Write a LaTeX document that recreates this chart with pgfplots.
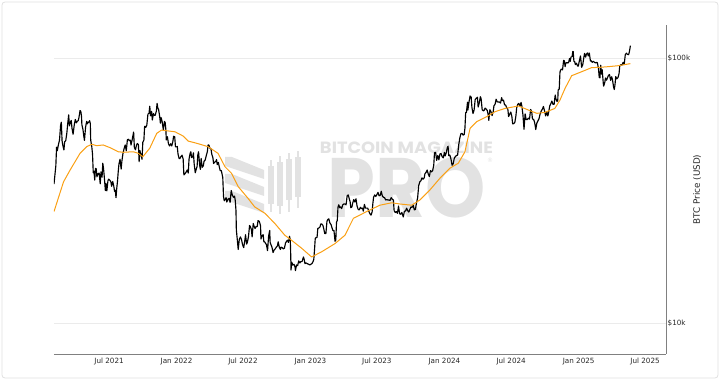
\documentclass[border=0pt]{standalone}
\usepackage{fontspec}
\setmainfont{DejaVu Sans}
\newfontfamily\wmfont{Poppins}
\usepackage{pgfplots}
\pgfplotsset{compat=1.18}
\usepgfplotslibrary{dateplot}
\definecolor{btcorange}{RGB}{250,160,20}
\definecolor{wmgray}{RGB}{226,226,226}
\begin{document}
\begin{tikzpicture}
\useasboundingbox (0,0) rectangle (720pt,380pt);
\draw[black!12, line width=0.8pt, rounded corners=3pt] (2pt,2pt) rectangle (718pt,378pt);
% watermark (image pixel coordinates, y downwards)
\begin{scope}[x=1pt,y=-1pt,shift={(0,380pt)}]
  \foreach \i in {0,1,2} {
    \fill[wmgray] (225,{157+17*\i}) -- (232,{157+17*\i}) -- (264,{170+17*\i}) -- (264,{179+17*\i}) -- (225,{166+17*\i}) -- cycle;
  }
  \foreach \cx/\ta/\ba/\tb/\bb in {271/160/212/166/204, 280/156/214/162/206, 289/153/212/159/200, 298/151/208/157/197} {
    \fill[wmgray] (\cx-0.8,\ta) rectangle (\cx+0.8,\ba);
    \fill[wmgray] (\cx-2.8,\tb) rectangle (\cx+2.8,\bb);
  }
  \node[anchor=center, inner sep=0pt, text=wmgray] at (406.5,147.5) {\resizebox{173pt}{11.6pt}{\wmfont\bfseries BITCOIN MAGAZINE}};
  \node[anchor=center, inner sep=0pt, text=wmgray] at (407,188) {\resizebox{158pt}{60pt}{\wmfont\bfseries PRO}};
  \node[anchor=center, inner sep=0pt, text=wmgray] at (490,160) {\fontsize{6}{6}\selectfont\textregistered};
\end{scope}
\begin{axis}[
  at={(54pt,26pt)}, anchor=south west,
  scale only axis, width=612pt, height=329pt,
  date coordinates in=x,
  xmin=2021-02-01, xmax=2025-08-27,
  ymode=log, ymin=7.66, ymax=133.6,
  axis x line*=bottom, axis y line*=right,
  axis line style={-, draw=black!50, line width=0.8pt},
  xtick={2021-07-01,2022-01-01,2022-07-01,2023-01-01,2023-07-01,2024-01-01,2024-07-01,2025-01-01,2025-07-01},
  xticklabels={Jul 2021,Jan 2022,Jul 2022,Jan 2023,Jul 2023,Jan 2024,Jul 2024,Jan 2025,Jul 2025},
  ytick={10,100}, yticklabels={\$10k,\$100k},
  minor ytick={}, 
  major tick length=0pt, minor tick length=0pt,
  ymajorgrids, grid style={black!8, line width=0.6pt},
  tick label style={font=\fontsize{7.2}{8}\selectfont, text=black!85},
  yticklabel style={anchor=west, inner sep=1.5pt},
  xticklabel style={yshift=-0.5pt},
  ylabel={BTC Price (USD)},
  ylabel style={at={(axis description cs:1.0507,0.5)}, anchor=center, rotate=0, font=\fontsize{8.8}{10}\selectfont, text=black!85},
]
\addplot[black, line width=1.15pt, line join=round] coordinates {
(2021-02-01,33.5)(2021-02-04,36.9)(2021-02-06,39.3)(2021-02-08,46.2)(2021-02-10,44.8)(2021-02-13,47.2)(2021-02-16,49.1)(2021-02-19,55.9)(2021-02-21,57.4)(2021-02-23,48.8)(2021-02-25,47.0)(2021-02-28,45.1)
(2021-03-02,48.4)(2021-03-05,48.9)(2021-03-08,52.2)(2021-03-10,56.0)(2021-03-13,61.2)(2021-03-15,55.6)(2021-03-18,57.6)(2021-03-20,58.3)(2021-03-22,54.5)(2021-03-25,51.7)(2021-03-28,55.8)(2021-03-31,58.8)
(2021-04-03,57.1)(2021-04-06,58.0)(2021-04-08,58.1)(2021-04-10,59.8)(2021-04-13,63.5)(2021-04-15,63.1)(2021-04-17,60.4)(2021-04-18,56.2)(2021-04-21,53.8)(2021-04-23,51.1)(2021-04-25,49.0)(2021-04-28,54.9)
(2021-05-01,57.8)(2021-05-03,56.6)(2021-05-05,57.4)(2021-05-07,57.4)(2021-05-09,58.2)(2021-05-11,56.7)(2021-05-12,49.2)(2021-05-15,46.4)(2021-05-17,43.5)(2021-05-19,37.0)(2021-05-21,37.5)(2021-05-23,34.7)(2021-05-25,38.4)(2021-05-27,38.3)(2021-05-29,35.7)
(2021-06-01,36.7)(2021-06-04,36.9)(2021-06-07,33.6)(2021-06-09,37.3)(2021-06-12,35.6)(2021-06-14,40.2)(2021-06-16,38.4)(2021-06-18,35.8)(2021-06-21,31.7)(2021-06-23,33.7)(2021-06-25,31.6)(2021-06-28,34.5)(2021-06-30,35.0)
(2021-07-03,34.7)(2021-07-06,34.2)(2021-07-08,32.9)(2021-07-11,34.3)(2021-07-14,32.9)(2021-07-16,31.5)(2021-07-18,31.8)(2021-07-20,29.8)(2021-07-22,32.3)(2021-07-24,34.3)(2021-07-26,37.3)(2021-07-28,39.9)(2021-07-31,41.6)
(2021-08-03,38.2)(2021-08-05,40.9)(2021-08-08,43.8)(2021-08-11,45.6)(2021-08-14,47.1)(2021-08-17,44.8)(2021-08-20,49.3)(2021-08-23,49.5)(2021-08-25,48.9)(2021-08-28,49.1)(2021-08-30,47.1)
(2021-09-02,49.3)(2021-09-05,51.8)(2021-09-06,52.7)(2021-09-08,46.1)(2021-09-11,45.2)(2021-09-14,47.1)(2021-09-16,47.7)(2021-09-19,47.3)(2021-09-21,40.7)(2021-09-23,44.9)(2021-09-26,43.2)(2021-09-29,41.6)
(2021-10-01,48.2)(2021-10-04,49.1)(2021-10-06,55.4)(2021-10-09,54.9)(2021-10-12,56.0)(2021-10-15,61.6)(2021-10-18,62.0)(2021-10-20,66.0)(2021-10-22,60.7)(2021-10-25,63.1)(2021-10-27,58.5)(2021-10-30,61.9)
(2021-11-01,61.0)(2021-11-04,61.0)(2021-11-07,63.3)(2021-11-09,67.6)(2021-11-11,64.9)(2021-11-13,64.2)(2021-11-16,60.4)(2021-11-18,56.9)(2021-11-20,59.7)(2021-11-23,57.5)(2021-11-26,53.6)(2021-11-29,57.8)
(2021-12-01,57.2)(2021-12-03,53.6)(2021-12-04,49.2)(2021-12-07,50.6)(2021-12-10,47.6)(2021-12-13,46.7)(2021-12-16,47.6)(2021-12-19,46.7)(2021-12-22,48.6)(2021-12-24,50.8)(2021-12-27,50.6)(2021-12-29,46.4)(2021-12-31,46.3)
(2022-01-03,46.5)(2022-01-05,43.5)(2022-01-08,41.9)(2022-01-10,41.8)(2022-01-13,42.6)(2022-01-16,43.1)(2022-01-19,41.7)(2022-01-21,36.3)(2022-01-24,36.7)(2022-01-27,37.2)(2022-01-30,37.9)
(2022-02-02,36.9)(2022-02-04,41.6)(2022-02-07,43.8)(2022-02-09,44.4)(2022-02-11,42.2)(2022-02-14,42.6)(2022-02-16,44.0)(2022-02-18,40.0)(2022-02-21,37.0)(2022-02-24,38.3)(2022-02-26,39.1)(2022-02-28,43.2)
(2022-03-02,44.4)(2022-03-05,39.4)(2022-03-07,38.1)(2022-03-09,41.9)(2022-03-12,38.8)(2022-03-15,39.3)(2022-03-17,40.9)(2022-03-20,41.3)(2022-03-23,42.9)(2022-03-26,44.5)(2022-03-28,47.1)(2022-03-30,47.1)
(2022-04-02,45.8)(2022-04-05,45.5)(2022-04-07,43.5)(2022-04-10,42.2)(2022-04-12,40.1)(2022-04-15,40.6)(2022-04-18,40.8)(2022-04-20,41.5)(2022-04-22,39.7)(2022-04-25,40.5)(2022-04-27,39.2)(2022-04-30,37.7)
(2022-05-03,37.7)(2022-05-05,36.6)(2022-05-07,35.5)(2022-05-09,30.1)(2022-05-11,29.0)(2022-05-13,29.3)(2022-05-16,29.8)(2022-05-18,28.7)(2022-05-21,29.4)(2022-05-24,29.6)(2022-05-27,28.6)(2022-05-30,31.7)
(2022-06-02,30.5)(2022-06-05,29.9)(2022-06-08,30.2)(2022-06-10,29.1)(2022-06-12,26.6)(2022-06-13,22.5)(2022-06-16,20.4)(2022-06-18,19.0)(2022-06-21,20.7)(2022-06-24,21.2)(2022-06-27,20.7)(2022-06-30,19.8)
(2022-07-03,19.3)(2022-07-06,20.5)(2022-07-08,21.6)(2022-07-11,19.9)(2022-07-13,20.2)(2022-07-16,21.2)(2022-07-19,23.4)(2022-07-21,23.2)(2022-07-24,22.6)(2022-07-26,21.2)(2022-07-29,23.8)(2022-07-31,23.3)
(2022-08-03,22.8)(2022-08-06,23.2)(2022-08-09,23.2)(2022-08-11,24.4)(2022-08-14,24.3)(2022-08-16,23.9)(2022-08-18,23.3)(2022-08-19,20.8)(2022-08-22,21.4)(2022-08-25,21.6)(2022-08-27,20.3)(2022-08-29,20.3)(2022-08-31,20.1)
(2022-09-03,19.8)(2022-09-06,18.8)(2022-09-09,21.4)(2022-09-12,22.4)(2022-09-13,20.2)(2022-09-16,19.7)(2022-09-18,19.4)(2022-09-21,18.5)(2022-09-24,18.9)(2022-09-27,19.1)(2022-09-30,19.4)
(2022-10-03,19.6)(2022-10-05,20.3)(2022-10-08,19.4)(2022-10-11,19.0)(2022-10-13,19.4)(2022-10-16,19.3)(2022-10-19,19.1)(2022-10-22,19.2)(2022-10-25,20.1)(2022-10-27,20.3)(2022-10-30,20.6)
(2022-11-02,20.2)(2022-11-05,21.3)(2022-11-07,20.6)(2022-11-08,18.5)(2022-11-09,15.9)(2022-11-11,17.0)(2022-11-14,16.6)(2022-11-17,16.7)(2022-11-20,16.3)(2022-11-21,15.8)(2022-11-24,16.6)(2022-11-27,16.5)(2022-11-30,17.2)
(2022-12-03,16.9)(2022-12-06,17.1)(2022-12-09,17.1)(2022-12-13,17.8)(2022-12-15,17.4)(2022-12-17,16.8)(2022-12-20,16.9)(2022-12-23,16.8)(2022-12-27,16.7)(2022-12-30,16.6)
(2023-01-02,16.7)(2023-01-05,16.8)(2023-01-08,17.1)(2023-01-10,17.4)(2023-01-12,18.9)(2023-01-14,20.9)(2023-01-17,21.1)(2023-01-19,21.1)(2023-01-21,22.8)(2023-01-24,22.9)(2023-01-27,23.1)(2023-01-29,23.7)
(2023-02-01,23.7)(2023-02-04,23.4)(2023-02-06,22.8)(2023-02-09,21.8)(2023-02-12,21.8)(2023-02-15,24.3)(2023-02-17,24.6)(2023-02-20,24.8)(2023-02-23,23.9)(2023-02-26,23.6)(2023-02-28,23.1)
(2023-03-03,22.4)(2023-03-06,22.4)(2023-03-09,20.4)(2023-03-11,20.6)(2023-03-13,24.1)(2023-03-15,24.4)(2023-03-17,27.4)(2023-03-19,28.0)(2023-03-22,27.3)(2023-03-24,27.5)(2023-03-27,27.1)(2023-03-30,28.0)
(2023-04-02,28.2)(2023-04-05,28.2)(2023-04-08,28.0)(2023-04-11,30.3)(2023-04-14,30.5)(2023-04-17,29.4)(2023-04-19,28.8)(2023-04-21,27.3)(2023-04-24,27.5)(2023-04-26,28.4)(2023-04-29,29.3)
(2023-05-02,28.7)(2023-05-05,29.5)(2023-05-08,27.7)(2023-05-11,26.9)(2023-05-14,26.8)(2023-05-17,27.4)(2023-05-20,27.1)(2023-05-23,27.2)(2023-05-25,26.5)(2023-05-28,28.1)(2023-05-31,27.2)
(2023-06-03,27.2)(2023-06-06,27.2)(2023-06-09,26.5)(2023-06-12,25.9)(2023-06-15,25.6)(2023-06-18,26.3)(2023-06-20,28.3)(2023-06-22,29.9)(2023-06-25,30.5)(2023-06-28,30.1)
(2023-07-01,30.6)(2023-07-04,31.2)(2023-07-07,30.3)(2023-07-10,30.4)(2023-07-13,31.5)(2023-07-16,30.2)(2023-07-19,29.9)(2023-07-22,29.8)(2023-07-25,29.2)(2023-07-28,29.3)(2023-07-31,29.2)
(2023-08-03,29.2)(2023-08-06,29.1)(2023-08-09,29.8)(2023-08-12,29.4)(2023-08-15,29.2)(2023-08-17,26.6)(2023-08-20,26.2)(2023-08-23,26.4)(2023-08-26,26.0)(2023-08-29,27.7)
(2023-09-01,25.9)(2023-09-04,25.8)(2023-09-07,26.2)(2023-09-11,25.2)(2023-09-14,26.5)(2023-09-17,26.5)(2023-09-20,27.2)(2023-09-23,26.6)(2023-09-26,26.3)(2023-09-29,26.9)
(2023-10-02,27.5)(2023-10-05,27.4)(2023-10-08,27.9)(2023-10-11,26.8)(2023-10-14,26.9)(2023-10-17,28.5)(2023-10-20,29.7)(2023-10-23,33.1)(2023-10-26,34.2)(2023-10-29,34.5)
(2023-11-01,35.4)(2023-11-04,35.0)(2023-11-07,35.4)(2023-11-09,36.7)(2023-11-12,37.1)(2023-11-15,37.9)(2023-11-18,36.6)(2023-11-21,35.8)(2023-11-24,37.7)(2023-11-27,37.3)(2023-11-30,37.7)
(2023-12-03,39.5)(2023-12-05,44.0)(2023-12-08,44.2)(2023-12-11,41.2)(2023-12-14,43.0)(2023-12-17,41.4)(2023-12-20,43.6)(2023-12-23,43.7)(2023-12-26,42.5)(2023-12-29,42.1)
(2024-01-01,44.2)(2024-01-03,42.8)(2024-01-06,44.0)(2024-01-09,46.1)(2024-01-11,46.6)(2024-01-13,42.9)(2024-01-16,43.1)(2024-01-19,41.6)(2024-01-22,39.5)(2024-01-25,40.0)(2024-01-28,42.0)(2024-01-31,42.6)
(2024-02-03,43.0)(2024-02-06,43.1)(2024-02-09,47.1)(2024-02-12,50.0)(2024-02-15,51.9)(2024-02-18,52.1)(2024-02-21,51.3)(2024-02-24,51.6)(2024-02-26,54.5)(2024-02-28,62.4)
(2024-03-01,62.4)(2024-03-04,68.3)(2024-03-05,63.8)(2024-03-08,68.3)(2024-03-11,72.1)(2024-03-14,71.4)(2024-03-16,65.3)(2024-03-19,61.9)(2024-03-22,63.8)(2024-03-25,70.0)(2024-03-28,70.7)(2024-03-31,71.3)
(2024-04-02,65.5)(2024-04-05,67.8)(2024-04-08,71.6)(2024-04-10,70.6)(2024-04-13,64.0)(2024-04-16,63.4)(2024-04-18,63.5)(2024-04-21,64.9)(2024-04-24,64.3)(2024-04-27,63.5)(2024-04-30,60.6)
(2024-05-01,58.3)(2024-05-04,64.0)(2024-05-07,62.9)(2024-05-10,60.8)(2024-05-13,62.9)(2024-05-15,66.2)(2024-05-18,67.0)(2024-05-21,70.1)(2024-05-24,68.5)(2024-05-27,68.4)(2024-05-30,68.4)
(2024-06-02,67.8)(2024-06-05,71.1)(2024-06-07,69.3)(2024-06-10,69.6)(2024-06-13,66.8)(2024-06-16,66.6)(2024-06-19,65.0)(2024-06-22,64.2)(2024-06-24,60.3)(2024-06-27,61.6)(2024-06-30,62.7)
(2024-07-03,60.2)(2024-07-05,56.6)(2024-07-08,56.7)(2024-07-11,57.3)(2024-07-14,60.8)(2024-07-16,65.0)(2024-07-19,67.1)(2024-07-22,67.6)(2024-07-25,65.8)(2024-07-28,68.2)(2024-07-30,66.2)
(2024-08-02,61.4)(2024-08-05,54.0)(2024-08-08,61.7)(2024-08-11,58.7)(2024-08-14,58.7)(2024-08-17,59.5)(2024-08-20,59.0)(2024-08-23,64.1)(2024-08-26,62.9)(2024-08-28,59.0)(2024-08-31,58.9)
(2024-09-03,57.3)(2024-09-06,53.9)(2024-09-09,57.0)(2024-09-12,58.1)(2024-09-15,59.2)(2024-09-18,61.8)(2024-09-21,63.3)(2024-09-24,64.3)(2024-09-27,65.8)(2024-09-30,63.3)
(2024-10-03,60.6)(2024-10-06,62.8)(2024-10-09,60.6)(2024-10-11,62.4)(2024-10-14,66.0)(2024-10-17,67.4)(2024-10-20,69.0)(2024-10-23,67.0)(2024-10-26,67.0)(2024-10-29,72.7)(2024-10-31,70.2)
(2024-11-03,68.7)(2024-11-05,69.4)(2024-11-06,75.9)(2024-11-09,76.6)(2024-11-11,88.7)(2024-11-13,90.4)(2024-11-15,91.1)(2024-11-18,90.5)(2024-11-21,98.3)(2024-11-23,97.8)(2024-11-25,93.0)(2024-11-27,96.0)(2024-11-30,96.4)
(2024-12-03,96.0)(2024-12-05,96.9)(2024-12-07,99.9)(2024-12-09,97.4)(2024-12-11,101.2)(2024-12-14,101.4)(2024-12-16,106.1)(2024-12-17,106.1)(2024-12-19,97.5)(2024-12-21,97.2)(2024-12-23,94.7)(2024-12-26,95.8)(2024-12-29,93.6)(2024-12-31,93.4)
(2025-01-03,98.1)(2025-01-06,102.1)(2025-01-09,92.5)(2025-01-12,94.5)(2025-01-15,100.5)(2025-01-17,104.4)(2025-01-20,101.1)(2025-01-22,103.6)(2025-01-25,104.8)(2025-01-27,102.1)(2025-01-30,104.7)
(2025-02-02,97.7)(2025-02-04,98.0)(2025-02-07,96.6)(2025-02-10,97.4)(2025-02-13,96.6)(2025-02-16,96.1)(2025-02-19,96.6)(2025-02-21,96.1)(2025-02-24,91.4)(2025-02-26,84.7)(2025-02-28,84.4)
(2025-03-02,94.2)(2025-03-04,87.2)(2025-03-06,90.6)(2025-03-09,80.7)(2025-03-10,78.6)(2025-03-13,80.9)(2025-03-15,84.3)(2025-03-18,82.7)(2025-03-20,84.2)(2025-03-23,86.1)(2025-03-26,86.9)(2025-03-29,82.6)
(2025-04-01,85.2)(2025-04-03,83.2)(2025-04-06,78.2)(2025-04-08,76.3)(2025-04-10,79.6)(2025-04-12,85.3)(2025-04-15,83.7)(2025-04-18,84.5)(2025-04-21,87.5)(2025-04-23,93.7)(2025-04-26,94.6)(2025-04-29,94.3)
(2025-05-02,96.5)(2025-05-05,94.7)(2025-05-08,103.2)(2025-05-11,104.6)(2025-05-14,103.5)(2025-05-17,103.2)(2025-05-19,105.6)(2025-05-21,109.6)(2025-05-22,111.7)
};
\addplot[btcorange, line width=1pt, line join=round] coordinates {
(2021-02-01,26.4)(2021-02-27,34.2)(2021-03-17,37.9)(2021-04-13,43.8)(2021-05-01,46.4)(2021-05-15,47.4)(2021-05-28,46.8)(2021-06-15,47.1)(2021-07-04,46.0)(2021-07-26,44.4)
(2021-08-09,44.2)(2021-09-05,44.4)(2021-09-19,43.8)(2021-10-01,42.5)(2021-10-20,45.8)(2021-11-08,52.1)(2021-11-21,53.6)(2021-12-05,53.3)(2021-12-28,52.8)
(2022-01-19,50.9)(2022-02-02,48.7)(2022-02-20,48.0)(2022-03-06,47.4)(2022-03-28,46.4)(2022-04-24,43.8)(2022-05-13,39.0)(2022-05-31,36.8)(2022-06-18,32.8)(2022-07-15,29.6)
(2022-08-02,27.5)(2022-08-30,26.0)(2022-09-26,23.8)(2022-10-23,21.5)(2022-11-10,20.6)(2022-12-08,19.2)(2023-01-04,17.8)(2023-01-31,18.6)(2023-03-09,20.0)(2023-04-05,21.5)
(2023-04-28,24.9)(2023-06-03,26.4)(2023-07-09,27.9)(2023-08-10,28.5)(2023-09-02,28.2)(2023-10-04,27.9)(2023-10-26,29.2)(2023-11-22,31.8)(2023-12-20,35.3)
(2024-01-16,38.5)(2024-02-08,40.2)(2024-02-26,44.4)(2024-03-11,54.4)(2024-03-29,57.7)(2024-04-25,60.2)(2024-05-18,62.9)(2024-06-14,64.7)(2024-07-21,66.1)(2024-08-17,63.8)
(2024-09-09,62.0)(2024-10-01,62.5)(2024-10-28,64.7)(2024-11-11,69.6)(2024-11-25,77.1)(2024-12-13,86.0)(2025-01-09,89.0)(2025-02-05,92.2)(2025-02-28,92.5)(2025-03-22,93.0)(2025-04-19,93.8)(2025-05-22,95.5)
};
\end{axis}
\end{tikzpicture}
\end{document}
